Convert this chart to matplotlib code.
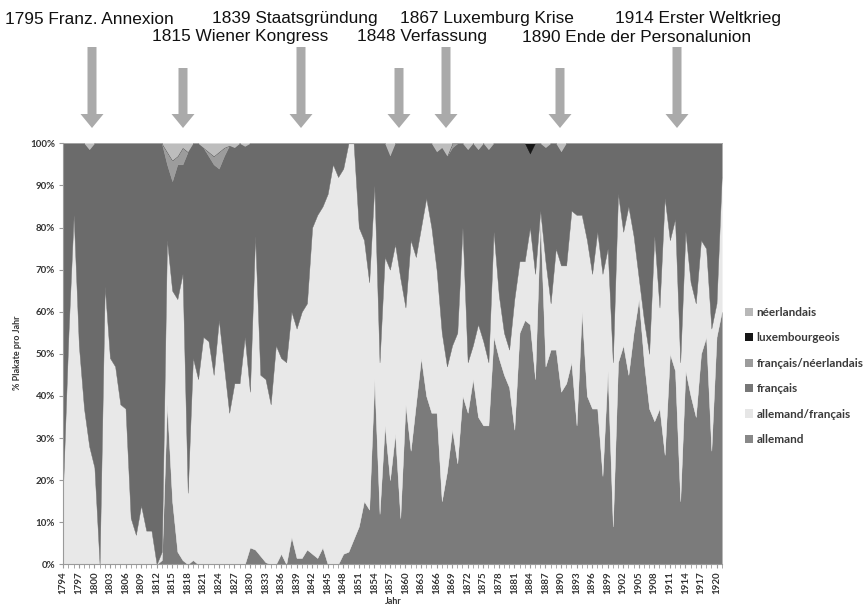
import matplotlib
matplotlib.use("Agg")
import matplotlib.pyplot as plt
from matplotlib.patches import FancyArrow, Patch
from matplotlib import font_manager

years = list(range(1794, 1922))

allemand = [0, 0, 0, 0, 0, 0, 0, 0, 0, 0, 0, 0, 0, 0, 0, 0, 0, 0, 0,
            1, 38, 15, 3, 1, 0, 1, 0, 0, 0, 0, 0, 0, 0, 0, 0, 0,
            4, 3.5, 2, 0.5, 0, 0, 2.5, 0, 6.5, 1.5, 1.5, 3.5, 2.5, 1.5, 4, 0, 0, 0, 2.5, 3,
            6, 9, 15, 13, 44, 12, 33, 20, 31, 11, 38, 27, 38, 49, 40, 36, 36, 15, 22, 32,
            24, 40, 36, 44, 35, 33, 33, 54, 49, 45, 42, 32, 55, 58, 57, 44, 82, 47, 51, 51,
            41, 43, 48, 33, 60, 40, 37, 37, 21, 46, 9, 48, 52, 45, 55, 63, 48, 37, 34, 37,
            26, 50, 46, 15, 46, 40, 35, 50, 54, 27, 54, 60]
allemand_francais = [20, 55, 83, 52, 37, 28, 23, 0, 66, 49, 47, 38, 37, 11, 7, 14, 8, 8, 0,
                     2, 39, 50, 60, 68, 17, 48, 44, 54, 53, 45, 58, 47, 36, 43, 43, 54,
                     37, 74.5, 43, 43.5, 38, 52, 46.5, 48, 53.5, 54.5, 58.5, 58.5, 77.5, 81.5, 81, 88, 95, 92, 91.5, 97,
                     94, 71, 62, 54, 46, 36, 40, 50, 45, 57, 23, 50, 35, 31, 47, 44, 34, 40, 25, 20,
                     31, 40, 12, 8, 22, 20, 15, 25, 15, 10, 9, 31, 17, 14, 23, 25, 2, 25, 11, 24,
                     30, 28, 36, 50, 23, 37, 32, 42, 48, 29, 39, 40, 27, 40, 23, 5, 10, 13, 44, 24,
                     61, 27, 36, 33, 33, 27, 27, 27, 21, 29, 8, 32]
francais = [80, 45, 17, 48, 63, 70.5, 77, 100, 34, 51, 53, 62, 63, 89, 93, 86, 92, 92, 100,
            97, 18, 26, 32, 26, 81, 51, 56, 45, 44, 50, 36, 50, 63.5, 56, 57, 45.3,
            59, 22, 55, 56, 62, 48, 51, 52, 40, 44, 40, 38, 20, 17, 15, 12, 5, 8, 6, 0,
            0, 20, 23, 33, 10, 52, 27, 27, 24, 32, 39, 23, 27, 20, 13, 20, 28, 44, 50, 47,
            45, 20, 50.5, 48, 41.5, 47, 50.5, 21, 36, 45, 49, 37, 28, 28, 17.5, 31, 16, 27, 38, 25,
            27, 29, 16, 17, 17, 23, 31, 21, 31, 25, 52, 12, 21, 15, 22, 32, 42, 50, 22, 39,
            13, 23, 18, 52, 21, 33, 38, 23, 25, 44, 38, 8]
francais_neerlandais = [0] * 20 + [3, 5, 2, 4, 0, 0, 0, 0, 1, 2, 4, 2] + [0] * 43 + [1] + [0] * 52
luxembourgeois = [0] * 90 + [2.5] + [0] * 37
neerlandais = ([0, 0, 0, 0, 0, 1.5] + [0] * 14 + [2, 4, 3, 1, 2, 0, 0, 1, 2, 3, 2, 1, 0.5, 1, 0, 0.7]
               + [0] * 27 + [3] + [0] * 8 + [2, 1, 3, 0, 0, 0, 1.5, 0, 1.5, 0, 1.5]
               + [0] * 10 + [1, 0, 0, 2] + [0] * 31)

series_names = ["allemand", "allemand/français", "français",
                "français/néerlandais", "luxembourgeois", "néerlandais"]
series_colors = ["#7b7b7b", "#e8e8e8", "#6b6b6b", "#9c9c9c", "#161616", "#bdbdbd"]
legend_colors = ["#888888", "#e6e6e6", "#777777", "#9c9c9c", "#161616", "#b8b8b8"]

events_row1 = [("1795 Franz. Annexion", 5), ("1839 Staatsgründung", 212),
               ("1867 Luxemburg Krise", 400), ("1914 Erster Weltkrieg", 615)]
events_row2 = [("1815 Wiener Kongress", 152), ("1848 Verfassung", 357),
               ("1890 Ende der Personalunion", 522)]
arrows = [(92, 47), (183, 68), (301, 47), (399, 68), (446, 47), (560, 68), (677, 47)]

avail = {f.name for f in font_manager.fontManager.ttflist}
narrow = "Liberation Sans Narrow" if "Liberation Sans Narrow" in avail else "Liberation Sans"
narrow_size = 14 if narrow == "Liberation Sans Narrow" else 12.4
base = "Lato" if "Lato" in avail else "DejaVu Sans"

W, H = 867, 607
fig = plt.figure(figsize=(W / 100, H / 100), dpi=100)
fig.patch.set_facecolor("white")

ax = fig.add_axes([63.3 / W, 1 - 564.3 / H, (721.7 - 63.3) / W, (564.3 - 143.3) / H])
polys = ax.stackplot(years, allemand, allemand_francais, francais,
                     francais_neerlandais, luxembourgeois, neerlandais,
                     colors=series_colors, linewidth=0)
for p, c in zip(polys, series_colors):
    p.set_edgecolor(c)
    p.set_linewidth(0.3)

ax.set_xlim(1794, 1921)
ax.set_ylim(0, 100)
ax.set_yticks(range(0, 101, 10))
ax.set_yticklabels([f"{v}%" for v in range(0, 101, 10)],
                   fontfamily=base, fontweight="bold", fontsize=7, color="#333333")
ax.set_xticks(years[::3])
ax.set_xticklabels([str(y) for y in years[::3]], rotation=90,
                   fontfamily=base, fontweight="bold", fontsize=7, color="#333333")
ax.set_xticks(years, minor=True)
ax.tick_params(axis="x", which="both", length=3, color="#9a9a9a", pad=2)
ax.tick_params(axis="y", length=3, color="#9a9a9a", pad=3)
for s in ["top", "right"]:
    ax.spines[s].set_visible(False)
for s in ["left", "bottom"]:
    ax.spines[s].set_color("#9a9a9a")
    ax.spines[s].set_linewidth(0.8)

fig.text(18 / W, 1 - 353 / H, "% Plakate pro Jahr", rotation=90, ha="center", va="center",
         fontfamily=base, fontweight="bold", fontsize=6.5, color="#333333")
fig.text(393 / W, 1 - 602 / H, "Jahr", ha="center", va="center",
         fontfamily=base, fontweight="bold", fontsize=6.5, color="#333333")

handles = [Patch(facecolor=legend_colors[i], edgecolor="none", label=series_names[i])
           for i in [5, 4, 3, 2, 1, 0]]
fig.legend(handles=handles, loc="center left", bbox_to_anchor=(734 / W, 1 - 376 / H),
           frameon=False, prop={"family": base, "weight": "bold", "size": 8.5},
           handlelength=0.7, handleheight=0.7, handletextpad=0.3, labelspacing=1.22,
           labelcolor="#3a3a3a")

ov = fig.add_axes([0, 0, 1, 1], facecolor="none")
ov.set_xlim(0, W)
ov.set_ylim(H, 0)
ov.axis("off")
for txt, x in events_row1:
    ov.text(x, 19, txt, ha="left", va="center", fontfamily=narrow, fontsize=narrow_size, color="#111111")
for txt, x in events_row2:
    ov.text(x, 37, txt, ha="left", va="center", fontfamily=narrow, fontsize=narrow_size, color="#111111")
for x, y0 in arrows:
    ov.add_patch(FancyArrow(x, y0, 0, 128 - y0, width=9, head_width=23, head_length=14,
                            length_includes_head=True, color="#aaaaaa", lw=0))

fig.savefig("out.png", dpi=100, facecolor="white")
